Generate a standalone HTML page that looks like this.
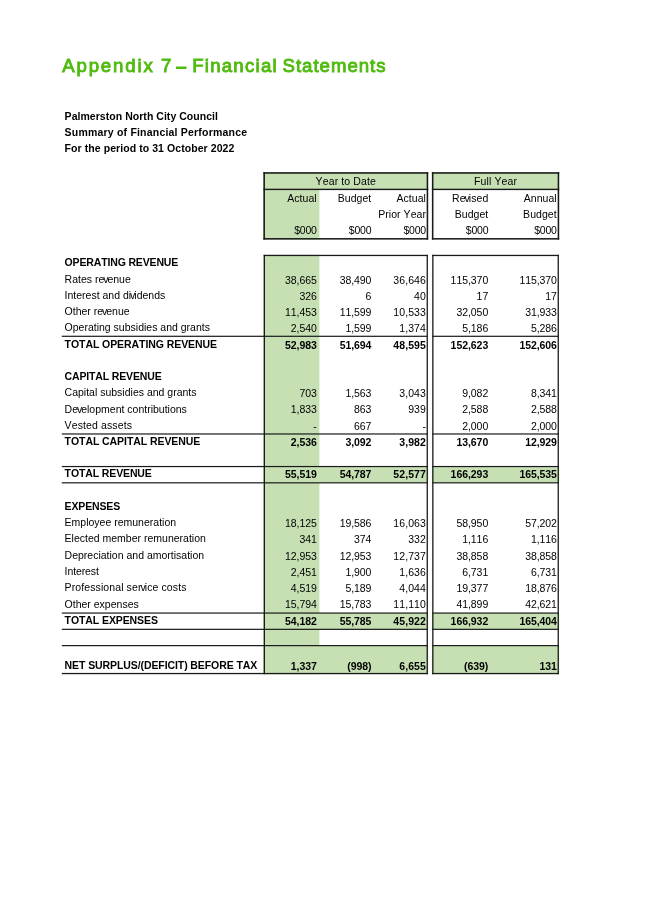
<!DOCTYPE html>
<html><head><meta charset="utf-8"><title>Appendix 7 – Financial Statements</title>
<style>
html,body{margin:0;padding:0;background:#fff;}
body{width:645px;height:912px;position:relative;overflow:hidden;font-family:"Liberation Sans",sans-serif;}
.t{position:absolute;white-space:nowrap;margin:0;padding:0;font-kerning:none;}
#txt{position:absolute;left:0;top:0;width:645px;height:912px;will-change:transform;}
</style></head><body>
<svg width="645" height="912" viewBox="0 0 645 912" style="position:absolute;left:0;top:0">
<rect x="263.40" y="172.20" width="164.80" height="17.20" fill="#c6e0b4"/>
<rect x="431.90" y="172.20" width="127.30" height="17.20" fill="#c6e0b4"/>
<rect x="263.40" y="189.40" width="56.00" height="50.20" fill="#c6e0b4"/>
<rect x="263.40" y="254.80" width="56.00" height="419.40" fill="#c6e0b4"/>
<rect x="263.40" y="466.54" width="164.80" height="16.28" fill="#c6e0b4"/>
<rect x="431.90" y="466.54" width="127.30" height="16.28" fill="#c6e0b4"/>
<rect x="263.40" y="613.06" width="164.80" height="16.28" fill="#c6e0b4"/>
<rect x="431.90" y="613.06" width="127.30" height="16.28" fill="#c6e0b4"/>
<rect x="263.40" y="645.62" width="164.80" height="28.58" fill="#c6e0b4"/>
<rect x="431.90" y="645.62" width="127.30" height="28.58" fill="#c6e0b4"/>
<rect x="263.40" y="172.20" width="164.80" height="1.55" fill="#1a1a1a"/>
<rect x="263.40" y="238.05" width="164.80" height="1.55" fill="#1a1a1a"/>
<rect x="263.40" y="172.20" width="1.55" height="67.40" fill="#1a1a1a"/>
<rect x="426.65" y="172.20" width="1.55" height="67.40" fill="#1a1a1a"/>
<rect x="263.40" y="188.70" width="164.80" height="1.40" fill="#1a1a1a"/>
<rect x="431.90" y="172.20" width="127.30" height="1.55" fill="#1a1a1a"/>
<rect x="431.90" y="238.05" width="127.30" height="1.55" fill="#1a1a1a"/>
<rect x="431.90" y="172.20" width="1.55" height="67.40" fill="#1a1a1a"/>
<rect x="557.65" y="172.20" width="1.55" height="67.40" fill="#1a1a1a"/>
<rect x="431.90" y="188.70" width="127.30" height="1.40" fill="#1a1a1a"/>
<rect x="263.70" y="254.80" width="164.20" height="1.30" fill="#1a1a1a"/>
<rect x="263.70" y="254.80" width="1.30" height="419.40" fill="#1a1a1a"/>
<rect x="426.60" y="254.80" width="1.30" height="419.40" fill="#1a1a1a"/>
<rect x="432.20" y="254.80" width="126.70" height="1.30" fill="#1a1a1a"/>
<rect x="432.20" y="254.80" width="1.30" height="419.40" fill="#1a1a1a"/>
<rect x="557.60" y="254.80" width="1.30" height="419.40" fill="#1a1a1a"/>
<rect x="61.80" y="335.70" width="366.10" height="1.20" fill="#1a1a1a"/>
<rect x="432.20" y="335.70" width="126.70" height="1.20" fill="#1a1a1a"/>
<rect x="61.80" y="433.38" width="366.10" height="1.20" fill="#1a1a1a"/>
<rect x="432.20" y="433.38" width="126.70" height="1.20" fill="#1a1a1a"/>
<rect x="61.80" y="465.94" width="366.10" height="1.20" fill="#1a1a1a"/>
<rect x="432.20" y="465.94" width="126.70" height="1.20" fill="#1a1a1a"/>
<rect x="61.80" y="482.22" width="366.10" height="1.20" fill="#1a1a1a"/>
<rect x="432.20" y="482.22" width="126.70" height="1.20" fill="#1a1a1a"/>
<rect x="61.80" y="612.46" width="366.10" height="1.20" fill="#1a1a1a"/>
<rect x="432.20" y="612.46" width="126.70" height="1.20" fill="#1a1a1a"/>
<rect x="61.80" y="628.74" width="366.10" height="1.20" fill="#1a1a1a"/>
<rect x="432.20" y="628.74" width="126.70" height="1.20" fill="#1a1a1a"/>
<rect x="61.80" y="645.02" width="366.10" height="1.20" fill="#1a1a1a"/>
<rect x="432.20" y="645.02" width="126.70" height="1.20" fill="#1a1a1a"/>
<rect x="61.80" y="672.90" width="366.10" height="1.30" fill="#1a1a1a"/>
<rect x="432.20" y="672.90" width="126.70" height="1.30" fill="#1a1a1a"/>
<rect x="175.9" y="66.4" width="10.6" height="2.7" rx="0.3" fill="#50bb0f"/>
</svg>
<div id="txt">
<div class="t" style="top:54px;font-size:18.6px;line-height:24px;color:#50bb0f;letter-spacing:1.85px;left:62.20px;-webkit-text-stroke:0.9px #50bb0f;">Appendix</div>
<div class="t" style="top:54px;font-size:18.6px;line-height:24px;color:#50bb0f;left:160.90px;-webkit-text-stroke:0.9px #50bb0f;">7</div>
<div class="t" style="top:54px;font-size:18.6px;line-height:24px;color:#50bb0f;letter-spacing:1.25px;left:192.20px;-webkit-text-stroke:0.9px #50bb0f;">Financial</div>
<div class="t" style="top:54px;font-size:18.6px;line-height:24px;color:#50bb0f;letter-spacing:1.0px;left:282.50px;-webkit-text-stroke:0.9px #50bb0f;">Statements</div>
<div class="t" style="top:110px;font-size:10.5px;line-height:12px;color:#000;font-weight:bold;letter-spacing:0.04px;left:64.60px;">Palmerston North City Council</div>
<div class="t" style="top:126px;font-size:10.5px;line-height:12px;color:#000;font-weight:bold;letter-spacing:0.2px;left:64.60px;">Summary of Financial Performance</div>
<div class="t" style="top:142px;font-size:10.5px;line-height:12px;color:#000;font-weight:bold;letter-spacing:0.07px;left:64.60px;">For the period to 31 October 2022</div>
<div class="t" style="top:175px;font-size:10.5px;line-height:12px;color:#000;letter-spacing:0.12px;left:195.80px;width:300px;text-align:center;">Year to Date</div>
<div class="t" style="top:175px;font-size:10.5px;line-height:12px;color:#000;letter-spacing:0.1px;left:345.55px;width:300px;text-align:center;">Full Year</div>
<div class="t" style="top:192px;font-size:10.5px;line-height:12px;color:#000;letter-spacing:0.05px;right:328.30px;">Actual</div>
<div class="t" style="top:224px;font-size:10.5px;line-height:12px;color:#000;letter-spacing:-0.2px;right:328.30px;">$000</div>
<div class="t" style="top:192px;font-size:10.5px;line-height:12px;color:#000;letter-spacing:0.05px;right:273.70px;">Budget</div>
<div class="t" style="top:224px;font-size:10.5px;line-height:12px;color:#000;letter-spacing:-0.2px;right:273.70px;">$000</div>
<div class="t" style="top:192px;font-size:10.5px;line-height:12px;color:#000;letter-spacing:0.05px;right:219.00px;">Actual</div>
<div class="t" style="top:208px;font-size:10.5px;line-height:12px;color:#000;letter-spacing:0.05px;right:219.00px;">Prior Year</div>
<div class="t" style="top:224px;font-size:10.5px;line-height:12px;color:#000;letter-spacing:-0.2px;right:219.00px;">$000</div>
<div class="t" style="top:192px;font-size:10.5px;line-height:12px;color:#000;letter-spacing:0.05px;right:156.70px;">Re<span style="margin:0 -1.05px">v</span>ised</div>
<div class="t" style="top:208px;font-size:10.5px;line-height:12px;color:#000;letter-spacing:0.05px;right:156.70px;">Budget</div>
<div class="t" style="top:224px;font-size:10.5px;line-height:12px;color:#000;letter-spacing:-0.2px;right:156.70px;">$000</div>
<div class="t" style="top:192px;font-size:10.5px;line-height:12px;color:#000;letter-spacing:0.05px;right:88.30px;">Annual</div>
<div class="t" style="top:208px;font-size:10.5px;line-height:12px;color:#000;letter-spacing:0.05px;right:88.30px;">Budget</div>
<div class="t" style="top:224px;font-size:10.5px;line-height:12px;color:#000;letter-spacing:-0.2px;right:88.30px;">$000</div>
<div class="t" style="top:256px;font-size:10.5px;line-height:12px;color:#000;font-weight:bold;letter-spacing:-0.15px;left:64.60px;">OPERATING REVENUE</div>
<div class="t" style="top:273px;font-size:10.5px;line-height:12px;color:#000;left:64.60px;">Rates re<span style="margin:0 -1.05px">v</span>enue</div>
<div class="t" style="top:274px;font-size:10.5px;line-height:12px;color:#000;letter-spacing:-0.08px;right:328.30px;">38,665</div>
<div class="t" style="top:274px;font-size:10.5px;line-height:12px;color:#000;letter-spacing:-0.1px;right:273.70px;">38,490</div>
<div class="t" style="top:274px;font-size:10.5px;line-height:12px;color:#000;letter-spacing:0.1px;right:219.00px;">36,646</div>
<div class="t" style="top:274px;font-size:10.5px;line-height:12px;color:#000;letter-spacing:-0.05px;right:156.80px;">115,370</div>
<div class="t" style="top:274px;font-size:10.5px;line-height:12px;color:#000;letter-spacing:-0.1px;right:88.30px;">115,370</div>
<div class="t" style="top:289px;font-size:10.5px;line-height:12px;color:#000;left:64.60px;">Interest and di<span style="margin:0 -1.05px">v</span>idends</div>
<div class="t" style="top:290px;font-size:10.5px;line-height:12px;color:#000;letter-spacing:-0.08px;right:328.30px;">326</div>
<div class="t" style="top:290px;font-size:10.5px;line-height:12px;color:#000;letter-spacing:-0.1px;right:273.70px;">6</div>
<div class="t" style="top:290px;font-size:10.5px;line-height:12px;color:#000;letter-spacing:0.1px;right:219.00px;">40</div>
<div class="t" style="top:290px;font-size:10.5px;line-height:12px;color:#000;letter-spacing:-0.05px;right:156.80px;">17</div>
<div class="t" style="top:290px;font-size:10.5px;line-height:12px;color:#000;letter-spacing:-0.1px;right:88.30px;">17</div>
<div class="t" style="top:305px;font-size:10.5px;line-height:12px;color:#000;left:64.60px;">Other re<span style="margin:0 -1.05px">v</span>enue</div>
<div class="t" style="top:306px;font-size:10.5px;line-height:12px;color:#000;letter-spacing:-0.08px;right:328.30px;">11,453</div>
<div class="t" style="top:306px;font-size:10.5px;line-height:12px;color:#000;letter-spacing:-0.1px;right:273.70px;">11,599</div>
<div class="t" style="top:306px;font-size:10.5px;line-height:12px;color:#000;letter-spacing:0.1px;right:219.00px;">10,533</div>
<div class="t" style="top:306px;font-size:10.5px;line-height:12px;color:#000;letter-spacing:-0.05px;right:156.80px;">32,050</div>
<div class="t" style="top:306px;font-size:10.5px;line-height:12px;color:#000;letter-spacing:-0.1px;right:88.30px;">31,933</div>
<div class="t" style="top:321px;font-size:10.5px;line-height:12px;color:#000;left:64.60px;">Operating subsidies and grants</div>
<div class="t" style="top:322px;font-size:10.5px;line-height:12px;color:#000;letter-spacing:-0.08px;right:328.30px;">2,540</div>
<div class="t" style="top:322px;font-size:10.5px;line-height:12px;color:#000;letter-spacing:-0.1px;right:273.70px;">1,599</div>
<div class="t" style="top:322px;font-size:10.5px;line-height:12px;color:#000;letter-spacing:0.1px;right:219.00px;">1,374</div>
<div class="t" style="top:322px;font-size:10.5px;line-height:12px;color:#000;letter-spacing:-0.05px;right:156.80px;">5,186</div>
<div class="t" style="top:322px;font-size:10.5px;line-height:12px;color:#000;letter-spacing:-0.1px;right:88.30px;">5,286</div>
<div class="t" style="top:338px;font-size:10.5px;line-height:12px;color:#000;font-weight:bold;letter-spacing:-0.07px;left:64.60px;">TOTAL OPERATING REVENUE</div>
<div class="t" style="top:339px;font-size:10.5px;line-height:12px;color:#000;font-weight:bold;letter-spacing:-0.08px;right:328.30px;">52,983</div>
<div class="t" style="top:339px;font-size:10.5px;line-height:12px;color:#000;font-weight:bold;letter-spacing:-0.1px;right:273.70px;">51,694</div>
<div class="t" style="top:339px;font-size:10.5px;line-height:12px;color:#000;font-weight:bold;letter-spacing:0.1px;right:219.00px;">48,595</div>
<div class="t" style="top:339px;font-size:10.5px;line-height:12px;color:#000;font-weight:bold;letter-spacing:-0.05px;right:156.80px;">152,623</div>
<div class="t" style="top:339px;font-size:10.5px;line-height:12px;color:#000;font-weight:bold;letter-spacing:-0.1px;right:88.30px;">152,606</div>
<div class="t" style="top:370px;font-size:10.5px;line-height:12px;color:#000;font-weight:bold;letter-spacing:-0.15px;left:64.60px;">CAPITAL REVENUE</div>
<div class="t" style="top:386px;font-size:10.5px;line-height:12px;color:#000;left:64.60px;">Capital subsidies and grants</div>
<div class="t" style="top:387px;font-size:10.5px;line-height:12px;color:#000;letter-spacing:-0.08px;right:328.30px;">703</div>
<div class="t" style="top:387px;font-size:10.5px;line-height:12px;color:#000;letter-spacing:-0.1px;right:273.70px;">1,563</div>
<div class="t" style="top:387px;font-size:10.5px;line-height:12px;color:#000;letter-spacing:0.1px;right:219.00px;">3,043</div>
<div class="t" style="top:387px;font-size:10.5px;line-height:12px;color:#000;letter-spacing:-0.05px;right:156.80px;">9,082</div>
<div class="t" style="top:387px;font-size:10.5px;line-height:12px;color:#000;letter-spacing:-0.1px;right:88.30px;">8,341</div>
<div class="t" style="top:403px;font-size:10.5px;line-height:12px;color:#000;left:64.60px;">De<span style="margin:0 -1.05px">v</span>elopment contributions</div>
<div class="t" style="top:403px;font-size:10.5px;line-height:12px;color:#000;letter-spacing:-0.08px;right:328.30px;">1,833</div>
<div class="t" style="top:403px;font-size:10.5px;line-height:12px;color:#000;letter-spacing:-0.1px;right:273.70px;">863</div>
<div class="t" style="top:403px;font-size:10.5px;line-height:12px;color:#000;letter-spacing:0.1px;right:219.00px;">939</div>
<div class="t" style="top:403px;font-size:10.5px;line-height:12px;color:#000;letter-spacing:-0.05px;right:156.80px;">2,588</div>
<div class="t" style="top:403px;font-size:10.5px;line-height:12px;color:#000;letter-spacing:-0.1px;right:88.30px;">2,588</div>
<div class="t" style="top:419px;font-size:10.5px;line-height:12px;color:#000;letter-spacing:0.12px;left:64.60px;">Vested assets</div>
<div class="t" style="top:420px;font-size:10.5px;line-height:12px;color:#000;letter-spacing:-0.08px;right:328.30px;">-</div>
<div class="t" style="top:420px;font-size:10.5px;line-height:12px;color:#000;letter-spacing:-0.1px;right:273.70px;">667</div>
<div class="t" style="top:420px;font-size:10.5px;line-height:12px;color:#000;letter-spacing:0.1px;right:219.00px;">-</div>
<div class="t" style="top:420px;font-size:10.5px;line-height:12px;color:#000;letter-spacing:-0.05px;right:156.80px;">2,000</div>
<div class="t" style="top:420px;font-size:10.5px;line-height:12px;color:#000;letter-spacing:-0.1px;right:88.30px;">2,000</div>
<div class="t" style="top:435px;font-size:10.5px;line-height:12px;color:#000;font-weight:bold;letter-spacing:-0.07px;left:64.60px;">TOTAL CAPITAL REVENUE</div>
<div class="t" style="top:436px;font-size:10.5px;line-height:12px;color:#000;font-weight:bold;letter-spacing:-0.08px;right:328.30px;">2,536</div>
<div class="t" style="top:436px;font-size:10.5px;line-height:12px;color:#000;font-weight:bold;letter-spacing:-0.1px;right:273.70px;">3,092</div>
<div class="t" style="top:436px;font-size:10.5px;line-height:12px;color:#000;font-weight:bold;letter-spacing:0.1px;right:219.00px;">3,982</div>
<div class="t" style="top:436px;font-size:10.5px;line-height:12px;color:#000;font-weight:bold;letter-spacing:-0.05px;right:156.80px;">13,670</div>
<div class="t" style="top:436px;font-size:10.5px;line-height:12px;color:#000;font-weight:bold;letter-spacing:-0.1px;right:88.30px;">12,929</div>
<div class="t" style="top:467px;font-size:10.5px;line-height:12px;color:#000;font-weight:bold;letter-spacing:-0.12px;left:64.60px;">TOTAL REVENUE</div>
<div class="t" style="top:468px;font-size:10.5px;line-height:12px;color:#000;font-weight:bold;letter-spacing:-0.08px;right:328.30px;">55,519</div>
<div class="t" style="top:468px;font-size:10.5px;line-height:12px;color:#000;font-weight:bold;letter-spacing:-0.1px;right:273.70px;">54,787</div>
<div class="t" style="top:468px;font-size:10.5px;line-height:12px;color:#000;font-weight:bold;letter-spacing:0.1px;right:219.00px;">52,577</div>
<div class="t" style="top:468px;font-size:10.5px;line-height:12px;color:#000;font-weight:bold;letter-spacing:-0.05px;right:156.80px;">166,293</div>
<div class="t" style="top:468px;font-size:10.5px;line-height:12px;color:#000;font-weight:bold;letter-spacing:-0.1px;right:88.30px;">165,535</div>
<div class="t" style="top:500px;font-size:10.5px;line-height:12px;color:#000;font-weight:bold;letter-spacing:-0.15px;left:64.60px;">EXPENSES</div>
<div class="t" style="top:516px;font-size:10.5px;line-height:12px;color:#000;left:64.60px;">Employee remuneration</div>
<div class="t" style="top:517px;font-size:10.5px;line-height:12px;color:#000;letter-spacing:-0.08px;right:328.30px;">18,125</div>
<div class="t" style="top:517px;font-size:10.5px;line-height:12px;color:#000;letter-spacing:-0.1px;right:273.70px;">19,586</div>
<div class="t" style="top:517px;font-size:10.5px;line-height:12px;color:#000;letter-spacing:0.1px;right:219.00px;">16,063</div>
<div class="t" style="top:517px;font-size:10.5px;line-height:12px;color:#000;letter-spacing:-0.05px;right:156.80px;">58,950</div>
<div class="t" style="top:517px;font-size:10.5px;line-height:12px;color:#000;letter-spacing:-0.1px;right:88.30px;">57,202</div>
<div class="t" style="top:532px;font-size:10.5px;line-height:12px;color:#000;left:64.60px;">Elected member remuneration</div>
<div class="t" style="top:533px;font-size:10.5px;line-height:12px;color:#000;letter-spacing:-0.08px;right:328.30px;">341</div>
<div class="t" style="top:533px;font-size:10.5px;line-height:12px;color:#000;letter-spacing:-0.1px;right:273.70px;">374</div>
<div class="t" style="top:533px;font-size:10.5px;line-height:12px;color:#000;letter-spacing:0.1px;right:219.00px;">332</div>
<div class="t" style="top:533px;font-size:10.5px;line-height:12px;color:#000;letter-spacing:-0.05px;right:156.80px;">1,116</div>
<div class="t" style="top:533px;font-size:10.5px;line-height:12px;color:#000;letter-spacing:-0.1px;right:88.30px;">1,116</div>
<div class="t" style="top:549px;font-size:10.5px;line-height:12px;color:#000;left:64.60px;">Depreciation and amortisation</div>
<div class="t" style="top:550px;font-size:10.5px;line-height:12px;color:#000;letter-spacing:-0.08px;right:328.30px;">12,953</div>
<div class="t" style="top:550px;font-size:10.5px;line-height:12px;color:#000;letter-spacing:-0.1px;right:273.70px;">12,953</div>
<div class="t" style="top:550px;font-size:10.5px;line-height:12px;color:#000;letter-spacing:0.1px;right:219.00px;">12,737</div>
<div class="t" style="top:550px;font-size:10.5px;line-height:12px;color:#000;letter-spacing:-0.05px;right:156.80px;">38,858</div>
<div class="t" style="top:550px;font-size:10.5px;line-height:12px;color:#000;letter-spacing:-0.1px;right:88.30px;">38,858</div>
<div class="t" style="top:565px;font-size:10.5px;line-height:12px;color:#000;letter-spacing:-0.1px;left:64.60px;">Interest</div>
<div class="t" style="top:566px;font-size:10.5px;line-height:12px;color:#000;letter-spacing:-0.08px;right:328.30px;">2,451</div>
<div class="t" style="top:566px;font-size:10.5px;line-height:12px;color:#000;letter-spacing:-0.1px;right:273.70px;">1,900</div>
<div class="t" style="top:566px;font-size:10.5px;line-height:12px;color:#000;letter-spacing:0.1px;right:219.00px;">1,636</div>
<div class="t" style="top:566px;font-size:10.5px;line-height:12px;color:#000;letter-spacing:-0.05px;right:156.80px;">6,731</div>
<div class="t" style="top:566px;font-size:10.5px;line-height:12px;color:#000;letter-spacing:-0.1px;right:88.30px;">6,731</div>
<div class="t" style="top:581px;font-size:10.5px;line-height:12px;color:#000;letter-spacing:0.1px;left:64.60px;">Professional ser<span style="margin:0 -1.05px">v</span>ice costs</div>
<div class="t" style="top:582px;font-size:10.5px;line-height:12px;color:#000;letter-spacing:-0.08px;right:328.30px;">4,519</div>
<div class="t" style="top:582px;font-size:10.5px;line-height:12px;color:#000;letter-spacing:-0.1px;right:273.70px;">5,189</div>
<div class="t" style="top:582px;font-size:10.5px;line-height:12px;color:#000;letter-spacing:0.1px;right:219.00px;">4,044</div>
<div class="t" style="top:582px;font-size:10.5px;line-height:12px;color:#000;letter-spacing:-0.05px;right:156.80px;">19,377</div>
<div class="t" style="top:582px;font-size:10.5px;line-height:12px;color:#000;letter-spacing:-0.1px;right:88.30px;">18,876</div>
<div class="t" style="top:598px;font-size:10.5px;line-height:12px;color:#000;left:64.60px;">Other expenses</div>
<div class="t" style="top:598px;font-size:10.5px;line-height:12px;color:#000;letter-spacing:-0.08px;right:328.30px;">15,794</div>
<div class="t" style="top:598px;font-size:10.5px;line-height:12px;color:#000;letter-spacing:-0.1px;right:273.70px;">15,783</div>
<div class="t" style="top:598px;font-size:10.5px;line-height:12px;color:#000;letter-spacing:0.1px;right:219.00px;">11,110</div>
<div class="t" style="top:598px;font-size:10.5px;line-height:12px;color:#000;letter-spacing:-0.05px;right:156.80px;">41,899</div>
<div class="t" style="top:598px;font-size:10.5px;line-height:12px;color:#000;letter-spacing:-0.1px;right:88.30px;">42,621</div>
<div class="t" style="top:614px;font-size:10.5px;line-height:12px;color:#000;font-weight:bold;letter-spacing:-0.09px;left:64.60px;">TOTAL EXPENSES</div>
<div class="t" style="top:615px;font-size:10.5px;line-height:12px;color:#000;font-weight:bold;letter-spacing:-0.08px;right:328.30px;">54,182</div>
<div class="t" style="top:615px;font-size:10.5px;line-height:12px;color:#000;font-weight:bold;letter-spacing:-0.1px;right:273.70px;">55,785</div>
<div class="t" style="top:615px;font-size:10.5px;line-height:12px;color:#000;font-weight:bold;letter-spacing:0.1px;right:219.00px;">45,922</div>
<div class="t" style="top:615px;font-size:10.5px;line-height:12px;color:#000;font-weight:bold;letter-spacing:-0.05px;right:156.80px;">166,932</div>
<div class="t" style="top:615px;font-size:10.5px;line-height:12px;color:#000;font-weight:bold;letter-spacing:-0.1px;right:88.30px;">165,404</div>
<div class="t" style="top:659px;font-size:10.5px;line-height:12px;color:#000;font-weight:bold;letter-spacing:-0.09px;left:64.60px;">NET SURPLUS/(DEFICIT) BEFORE TAX</div>
<div class="t" style="top:660px;font-size:10.5px;line-height:12px;color:#000;font-weight:bold;letter-spacing:-0.08px;right:328.30px;">1,337</div>
<div class="t" style="top:660px;font-size:10.5px;line-height:12px;color:#000;font-weight:bold;letter-spacing:-0.1px;right:273.70px;">(998)</div>
<div class="t" style="top:660px;font-size:10.5px;line-height:12px;color:#000;font-weight:bold;letter-spacing:0.1px;right:219.00px;">6,655</div>
<div class="t" style="top:660px;font-size:10.5px;line-height:12px;color:#000;font-weight:bold;letter-spacing:-0.05px;right:156.80px;">(639)</div>
<div class="t" style="top:660px;font-size:10.5px;line-height:12px;color:#000;font-weight:bold;letter-spacing:-0.1px;right:88.30px;">131</div>
</div>
</body></html>
